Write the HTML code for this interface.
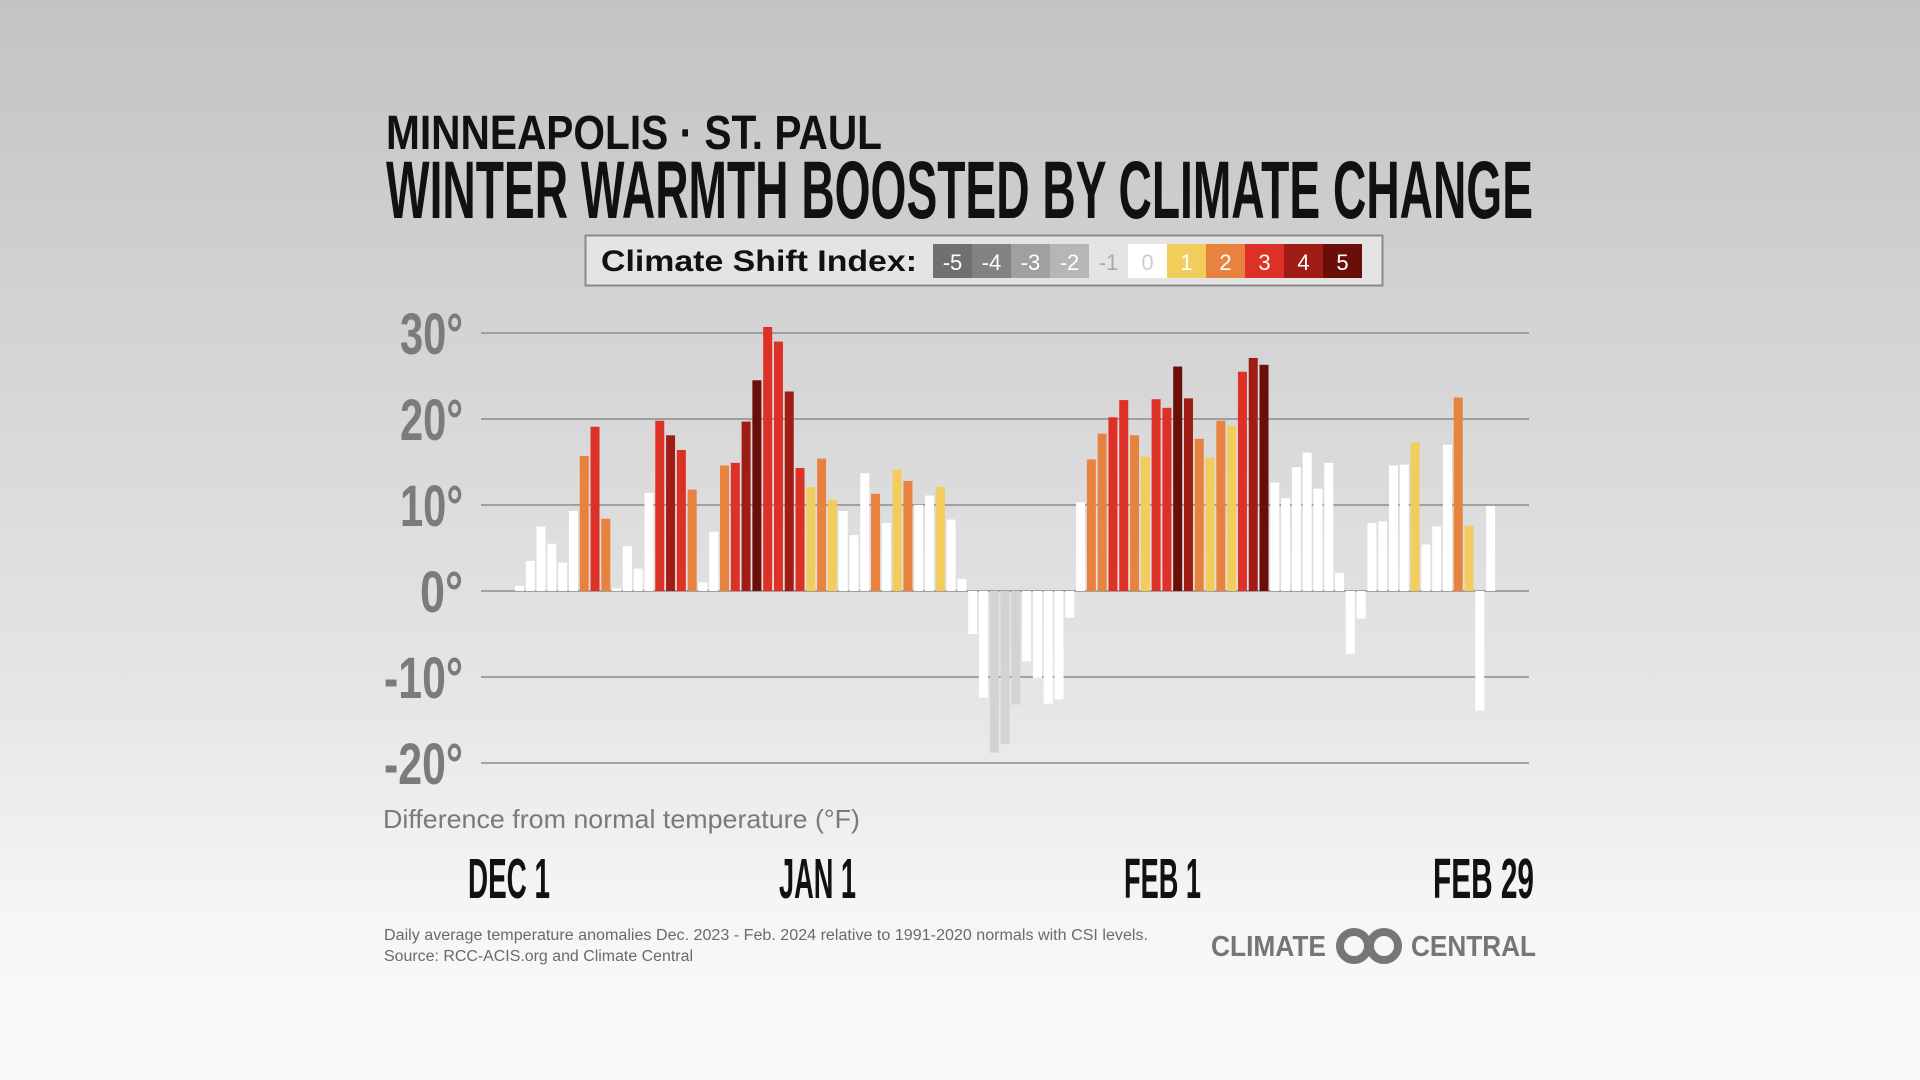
<!DOCTYPE html>
<html><head><meta charset="utf-8"><style>
html,body{margin:0;padding:0;width:1920px;height:1080px;overflow:hidden}
body{background:linear-gradient(#c3c3c3 0%,#d6d6d6 35%,#e6e6e6 65%,#f6f6f6 85%,#fafafa 100%);font-family:"Liberation Sans",sans-serif}
svg{position:absolute;left:0;top:0}
</style></head><body>
<svg id="chart" width="1920" height="1080" viewBox="0 0 1920 1080">
<text x="386" y="149" font-size="48" font-weight="bold" fill="#111" textLength="496" lengthAdjust="spacingAndGlyphs">MINNEAPOLIS · ST. PAUL</text>
<text x="386" y="218" font-size="82" font-weight="bold" fill="#111" textLength="1147" lengthAdjust="spacingAndGlyphs">WINTER WARMTH BOOSTED BY CLIMATE CHANGE</text>
<g>
<rect x="585.5" y="235.5" width="797" height="50" fill="#e4e4e4" stroke="#8a8a8a" stroke-width="2"/>
<text x="601" y="271" font-size="30" font-weight="bold" fill="#111" textLength="316" lengthAdjust="spacingAndGlyphs">Climate Shift Index:</text>
<g id="legsw"></g>
</g>
<g id="grid"></g>
<g id="bars"></g>
<text x="383" y="828" font-size="26" fill="#7a7a7a" textLength="477" lengthAdjust="spacingAndGlyphs">Difference from normal temperature (°F)</text>
<g id="dates"></g>
<text x="384" y="940" font-size="15.5" fill="#6a6a6a" textLength="764" lengthAdjust="spacingAndGlyphs">Daily average temperature anomalies Dec. 2023 - Feb. 2024 relative to 1991-2020 normals with CSI levels.</text>
<text x="384" y="961" font-size="15.5" fill="#6a6a6a" textLength="309" lengthAdjust="spacingAndGlyphs">Source: RCC-ACIS.org and Climate Central</text>
<g>
<text x="1211" y="956" font-size="29" font-weight="bold" fill="#767676" textLength="115" lengthAdjust="spacingAndGlyphs">CLIMATE</text>
<circle cx="1354" cy="946" r="14" fill="none" stroke="#767676" stroke-width="8"/>
<circle cx="1384" cy="946" r="14" fill="none" stroke="#767676" stroke-width="8"/>
<text x="1411" y="956" font-size="29" font-weight="bold" fill="#767676" textLength="125" lengthAdjust="spacingAndGlyphs">CENTRAL</text>
</g>
</svg>
<script>
const values=[0.6,3.5,7.5,5.5,3.3,9.3,15.7,19.1,8.4,0.3,5.2,2.6,11.4,19.8,18.1,16.4,11.8,1.0,6.9,14.6,14.9,19.7,24.5,30.7,29.0,23.2,14.3,12.1,15.4,10.6,9.3,6.5,13.7,11.3,7.9,14.1,12.8,10.0,11.1,12.1,8.3,1.4,-5.0,-12.4,-18.8,-17.8,-13.2,-8.2,-10.1,-13.1,-12.6,-3.1,10.3,15.3,18.3,20.2,22.2,18.1,15.6,22.3,21.3,26.1,22.4,17.7,15.5,19.8,19.2,25.5,27.1,26.3,12.6,10.8,14.4,16.1,11.9,14.9,2.1,-7.3,-3.2,7.9,8.1,14.6,14.7,17.3,5.4,7.5,17.0,22.5,7.6,-13.9,9.9];
const csi=[0,0,0,0,0,0,2,3,2,0,0,0,0,3,4,3,2,0,0,2,3,4,5,3,3,4,3,1,2,1,0,0,0,2,0,1,2,0,0,1,0,0,0,0,-1,-1,-1,0,0,0,0,0,0,2,2,3,3,2,1,3,3,5,4,2,1,2,1,3,4,5,0,0,0,0,0,0,0,0,0,0,0,0,0,1,0,0,0,2,1,0,0];
const yTicks=[30,20,10,0,-10,-20];
const yTickLabels=["30°","20°","10°","0°","-10°","-20°"];
const legendLevels=[-5,-4,-3,-2,-1,0,1,2,3,4,5];
const dateLabels=["DEC 1","JAN 1","FEB 1","FEB 29"];
const dateIdx=[0,31,62,90];
const NS="http://www.w3.org/2000/svg";
const colorOf={"-5":"#6e7072","-4":"#808284","-3":"#a0a0a0","-2":"#b6b6b6","-1":"#d3d3d3","0":"#ffffff","1":"#f2cd5c","2":"#e8823f","3":"#dd3127","4":"#a01d15","5":"#6b0e0a"};
const yScale=v=>591-v*8.6;
const xScale=i=>515+i*10.79;
function mk(t,a){const e=document.createElementNS(NS,t);for(const k in a)e.setAttribute(k,a[k]);return e;}
const grid=document.getElementById('grid');
yTicks.forEach((t,k)=>{
  const l=mk('line',{x1:481,x2:1529,y1:yScale(t),y2:yScale(t),stroke:'#8c8c8c','stroke-width':1.5});
  
  
  grid.appendChild(l);
  const lbl=yTickLabels[k];
  const w=lbl.length===3?(t===0?43:63):(lbl.length===2?43:79);
  const tx=mk('text',{x:463,y:yScale(t)+21,'font-size':58,'font-weight':'bold',fill:'#7b7b7b','text-anchor':'end',textLength:w,lengthAdjust:'spacingAndGlyphs'});
  tx.textContent=lbl;
  
  
  grid.appendChild(tx);
});
const bars=document.getElementById('bars');
values.forEach((v,i)=>{
  const y0=yScale(0),y1=yScale(v);
  const r=mk('rect',{x:xScale(i),y:Math.min(y0,y1),width:9,height:Math.abs(y1-y0),fill:colorOf[String(csi[i])]});
  
  
  bars.appendChild(r);
});
const legsw=document.getElementById('legsw');
legendLevels.forEach((lv,k)=>{
  const x=933+k*39;
  const fill=lv===-1?'none':colorOf[String(lv)];
  const r=mk('rect',{x:x,y:244,width:39,height:34,fill:fill});
  
  
  legsw.appendChild(r);
  const t=mk('text',{x:x+19.5,y:270,'font-size':22,'text-anchor':'middle',fill:lv===-1?'#aaaaaa':(lv===0?'#cccccc':'#ffffff')});
  t.textContent=String(lv);
  
  
  legsw.appendChild(t);
});
const dates=document.getElementById('dates');
const dateX=[468,779,1124,1433],dateW=[82,77,77,101];
dateLabels.forEach((d,k)=>{
  const t=mk('text',{x:dateX[k],y:898,'font-size':57,'font-weight':'bold',fill:'#111',textLength:dateW[k],lengthAdjust:'spacingAndGlyphs'});
  t.textContent=d;
  
  
  dates.appendChild(t);
});
</script>
</body></html>
